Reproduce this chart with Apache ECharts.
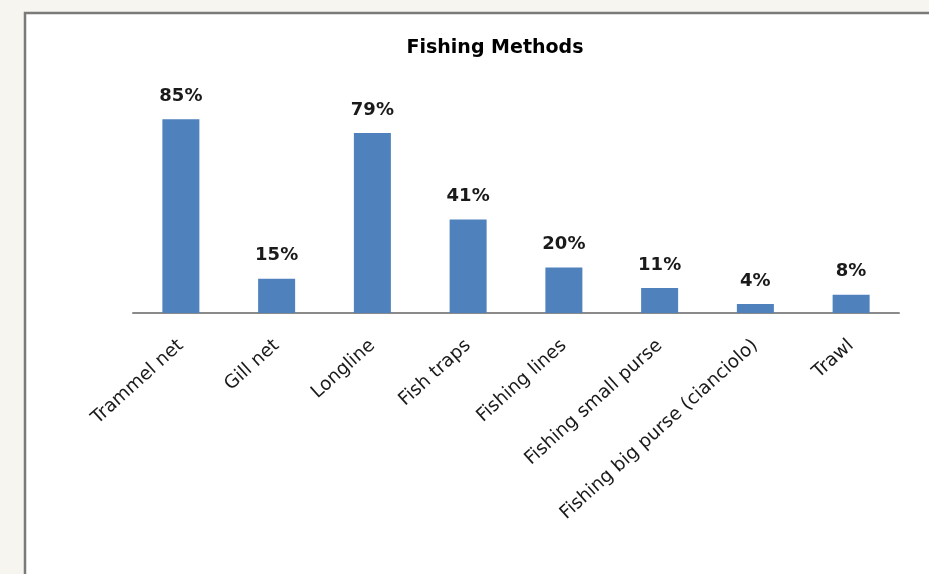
<!DOCTYPE html>
<html>
<head>
<meta charset="utf-8">
<style>
  html, body { margin: 0; padding: 0; background: #f6f5f0; }
  #chart { width: 929px; height: 574px; }
</style>
<script src="https://cdn.jsdelivr.net/npm/echarts@6/dist/echarts.min.js"></script>
</head>
<body>
<div id="chart"></div>
<script>
// Share of respondents using each fishing method (%)
const categories = [
  'Trammel net',
  'Gill net',
  'Longline',
  'Fish traps',
  'Fishing lines',
  'Fishing small purse',
  'Fishing big purse (cianciolo)',
  'Trawl'
];
const shares = [85, 15, 79, 41, 20, 11, 4, 8];
const chartTitle = 'Fishing Methods';

const chart = echarts.init(document.getElementById('chart'), null, { renderer: 'canvas' });

chart.setOption({
  backgroundColor: '#f6f5f0',
  animation: false,
  graphic: [{
    type: 'rect',
    z: -10,
    silent: true,
    shape: { x: 25, y: 13, width: 1000, height: 700 },
    style: { fill: '#ffffff', stroke: '#7a7a78', lineWidth: 2.5 }
  }],
  title: {
    text: chartTitle,
    left: 490,
    top: 34,
    textAlign: 'center',
    textStyle: {
      fontFamily: 'DejaVu Sans',
      fontWeight: 'bold',
      fontSize: 19,
      color: '#000000'
    }
  },
  grid: { left: 133, right: 30, top: 85, bottom: 261, containLabel: false },
  xAxis: {
    type: 'category',
    data: categories,
    axisLine: { show: true, lineStyle: { color: '#8a8a8a', width: 2 } },
    axisTick: { show: false },
    axisLabel: {
      rotate: 42,
      margin: 30,
      interval: 0,
      fontFamily: 'DejaVu Sans',
      fontSize: 18.5,
      color: '#1a1a1a'
    }
  },
  yAxis: {
    type: 'value',
    min: 0,
    max: 100,
    show: false,
    splitLine: { show: false }
  },
  series: [{
    type: 'bar',
    data: shares,
    barWidth: 37,
    itemStyle: { color: '#4f81bd' },
    label: {
      show: true,
      position: 'top',
      distance: 14,
      formatter: p => p.value + '%',
      fontFamily: 'DejaVu Sans',
      fontWeight: 'bold',
      fontSize: 18,
      color: '#1a1a1a'
    }
  }]
});
</script>
</body>
</html>
